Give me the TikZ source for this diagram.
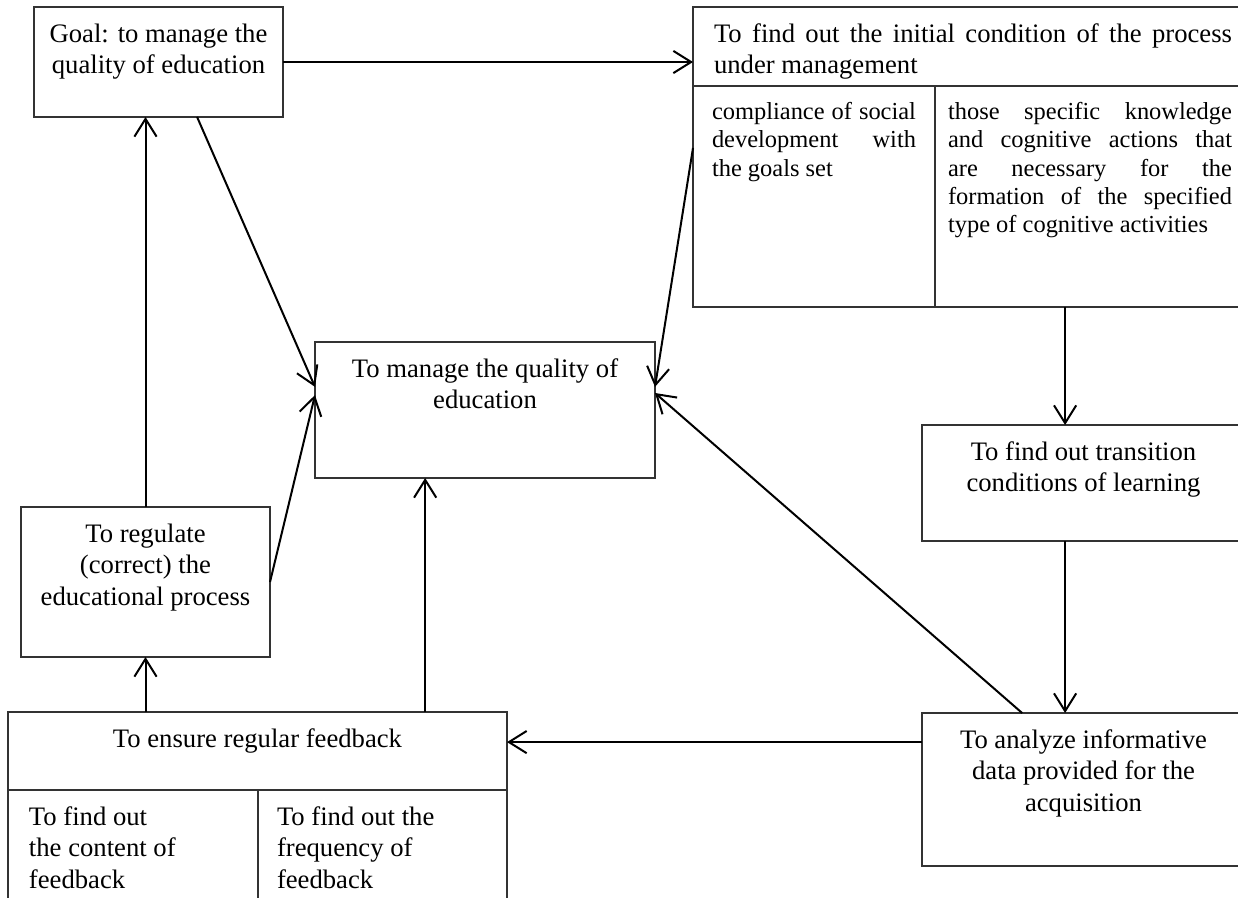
\documentclass[tikz,border=0pt]{standalone}
\usepackage{fontspec}
\setmainfont{Liberation Serif}
\usetikzlibrary{arrows.meta, calc}

\newlength{\pxu}
\setlength{\pxu}{0.45pt}
% text at the top of a box: [alignment]{width}{height}{text}
\newcommand{\boxtext}[4][\centering]{\parbox[t][#3\pxu][t]{#2\pxu}{#1\vspace*{14\pxu}\strut #4}}

\begin{document}
\begin{tikzpicture}[
    x=0.45pt, y=-0.45pt,
    >={Straight Barb[length=8pt,width=10pt]},
    box/.style={draw=black!80, line width=0.5pt, anchor=north west, inner xsep=10\pxu, inner ysep=0pt, outer sep=0pt, font=\fontsize{12}{14}\selectfont},
    cellfont/.style={font=\fontsize{11}{12.7}\selectfont},
    link/.style={->, line width=0.9pt}
]
\useasboundingbox (0,0) rectangle (1238,897);
\clip (0,0) rectangle (1238,897);
\fill[white] (0,0) rectangle (1238,897);

% Upper row
\node[box] (goal) at (34,7) {\boxtext{229}{110}{Goal: to manage the\\quality of education}};
\node[box, inner xsep=21\pxu] (inithead) at (693,7) {\boxtext[\relax]{518}{79}{To find out the initial condition of the process\linebreak under management}};
\node[box, cellfont, inner xsep=19\pxu] (initleft) at (693,86) {\boxtext[\relax]{204}{221}{compliance of social\linebreak development with\linebreak the goals set}};
\node[box, cellfont, inner xsep=13\pxu] (initright) at (935,86) {\boxtext[\relax]{284}{221}{those specific knowledge\linebreak and cognitive actions that\linebreak are necessary for the\linebreak formation of the specified\linebreak type of cognitive activities}};

% Middle row
\node[box] (manage) at (315,342) {\boxtext{320}{136}{To manage the quality of\\education}};
\node[box] (regulate) at (21,507) {\boxtext{229}{150}{To regulate\\(correct) the\\educational process}};
\node[box] (transition) at (922,425) {\boxtext{303}{116}{To find out transition\\conditions of learning}};

% Lower row
\node[box] (feedback) at (8,712) {\boxtext{479}{78}{To ensure regular feedback}};
\node[box, inner xsep=21\pxu] (content) at (8,790) {\boxtext[\raggedright]{208}{120}{To find out\\the content of\\feedback}};
\node[box, inner xsep=19\pxu] (frequency) at (258,790) {\boxtext[\raggedright]{211}{120}{To find out the\\frequency of\\feedback}};
\node[box] (analyze) at (922,713) {\boxtext{303}{153}{To analyze informative\\data provided for the\\acquisition}};

% Connections
\draw[link] (goal.east) -- (goal.east -| inithead.west);
\draw[link] ($(goal.south west)!0.655!(goal.south east)$) -- ($(manage.north west)!0.33!(manage.south west)$);
\draw[link] (regulate.north) -- (regulate.north |- goal.south);
\draw[link] (regulate.east) -- ($(manage.north west)!0.39!(manage.south west)$);
\draw[link] (regulate.south |- feedback.north) -- (regulate.south);

\coordinate (fbout) at ($(feedback.north west)!0.836!(feedback.north east)$);
\draw[link] (fbout) -- (fbout |- manage.south);

\coordinate (anout) at ($(analyze.north west)!0.19!(analyze.south west)$);
\draw[link] (anout) -- (anout -| feedback.east);
\draw[link] ($(analyze.north west)!0.31!(analyze.north east)$) -- ($(manage.north east)!0.375!(manage.south east)$);
\draw[link] ($(initleft.north west)!0.28!(initleft.south west)$) -- ($(manage.north east)!0.33!(manage.south east)$);

\coordinate (down) at ($(transition.north west)!0.443!(transition.north east)$);
\draw[link] (down |- initright.south) -- (down);
\draw[link] (transition.south -| down) -- (down |- analyze.north);

\end{tikzpicture}
\end{document}
